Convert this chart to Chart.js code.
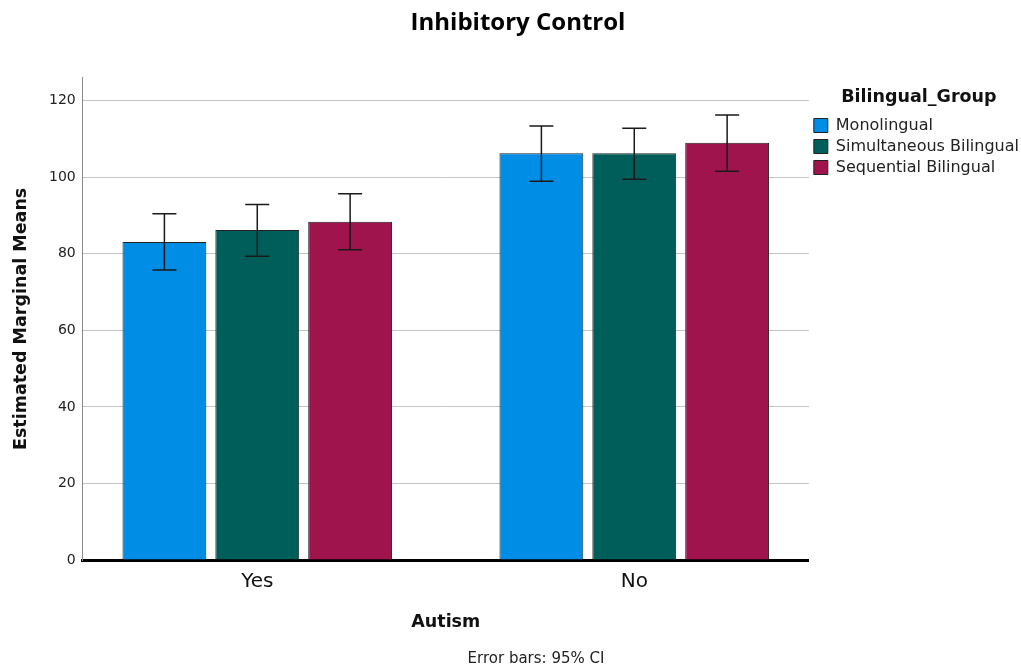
<!DOCTYPE html>
<html>
<head>
<meta charset="utf-8">
<script src="https://cdn.jsdelivr.net/npm/chart.js@4"></script>
<style>
  html, body { margin: 0; padding: 0; background: #fff; }
  #wrap { width: 1021px; height: 668px; position: relative; }
</style>
</head>
<body>
<div id="wrap"><canvas id="chart"></canvas></div>
<script>
// data
const autismGroups = ["Yes", "No"];
const groupNames = ["Monolingual", "Simultaneous Bilingual", "Sequential Bilingual"];

const monolingual = [83.1, 106.3];
const simultaneous = [86.2, 106.3];
const sequential = [88.4, 109.0];

const monoLow = [75.8, 99.0];
const monoHigh = [90.5, 113.4];
const simLow = [79.4, 99.5];
const simHigh = [92.9, 112.8];
const seqLow = [81.1, 101.6];
const seqHigh = [95.7, 116.3];

const yTicks = [0, 20, 40, 60, 80, 100, 120];

const FONT = "'DejaVu Sans', sans-serif";
const TITLE_FONT = "'Open Sans', 'DejaVu Sans', sans-serif";
Chart.defaults.font.family = FONT;
Chart.defaults.color = "#222";

function toPoints(values) {
    return values.map((v, i) => ({ x: i, y: v }));
}

// error bars (95% CI) drawn on top of the bars
const errorBars = {
    id: "errorBars",
    afterDatasetsDraw(chart) {
        const ctx = chart.ctx;
        const yScale = chart.scales.y;
        ctx.save();
        ctx.strokeStyle = "#1a1a1a";
        ctx.lineWidth = 1.5;
        chart.data.datasets.forEach((ds, i) => {
            const meta = chart.getDatasetMeta(i);
            meta.data.forEach((bar, j) => {
                const top = yScale.getPixelForValue(ds.ciHigh[j]);
                const bot = yScale.getPixelForValue(ds.ciLow[j]);
                const cap = 12;
                ctx.beginPath();
                ctx.moveTo(bar.x, top);
                ctx.lineTo(bar.x, bot);
                ctx.moveTo(bar.x - cap, top);
                ctx.lineTo(bar.x + cap, top);
                ctx.moveTo(bar.x - cap, bot);
                ctx.lineTo(bar.x + cap, bot);
                ctx.stroke();
            });
        });
        ctx.restore();
    }
};

// footnote under the x axis title
const footnote = {
    id: "footnote",
    afterDraw(chart) {
        const ctx = chart.ctx;
        ctx.save();
        ctx.font = "15px " + FONT;
        ctx.fillStyle = "#222";
        ctx.textAlign = "center";
        ctx.textBaseline = "middle";
        ctx.fillText("Error bars: 95% CI", 536, 659);
        ctx.restore();
    }
};

new Chart(document.getElementById("chart"), {
    type: "bar",
    data: {
        datasets: [
            {
                label: groupNames[0],
                data: toPoints(monolingual),
                ciLow: monoLow, ciHigh: monoHigh,
                backgroundColor: "#008de6",
                borderColor: "#222"
            },
            {
                label: groupNames[1],
                data: toPoints(simultaneous),
                ciLow: simLow, ciHigh: simHigh,
                backgroundColor: "#005e5a",
                borderColor: "#222"
            },
            {
                label: groupNames[2],
                data: toPoints(sequential),
                ciLow: seqLow, ciHigh: seqHigh,
                backgroundColor: "#a0144e",
                borderColor: "#222"
            }
        ]
    },
    options: {
        responsive: true,
        maintainAspectRatio: false,
        animation: false,
        datasets: {
            bar: {
                borderWidth: 1,
                categoryPercentage: 0.739,
                barPercentage: 0.903
            }
        },
        // negative right padding lets the legend sit flush with the canvas edge
        layout: { padding: { left: 7, right: -8, top: 6, bottom: 31 } },
        plugins: {
            title: {
                display: true,
                text: "Inhibitory Control",
                color: "#000",
                font: { family: TITLE_FONT, size: 24, weight: "bold" },
                padding: { top: 3, bottom: 40 }
            },
            legend: {
                position: "right",
                align: "start",
                title: {
                    display: true,
                    text: "Bilingual_Group",
                    color: "#111",
                    font: { size: 17.5, weight: "bold" },
                    padding: { top: 83, bottom: 2.5 }
                },
                labels: {
                    boxWidth: 14,
                    boxHeight: 14,
                    padding: 5,
                    color: "#222",
                    font: { size: 16 }
                }
            },
            tooltip: { enabled: false }
        },
        scales: {
            x: {
                type: "linear",
                min: -0.463,
                max: 1.463,
                offset: false,
                grid: { display: false, drawTicks: false },
                border: { color: "#000", width: 3 },
                afterBuildTicks: s => { s.ticks = autismGroups.map((g, i) => ({ value: i })); },
                ticks: {
                    callback: v => autismGroups[v],
                    font: { size: 20 },
                    color: "#111",
                    padding: 10
                },
                title: {
                    display: true,
                    text: "Autism",
                    color: "#111",
                    font: { size: 17.5, weight: "bold" },
                    padding: { top: 8 }
                }
            },
            y: {
                min: 0,
                max: 126,
                afterBuildTicks: s => { s.ticks = yTicks.map(v => ({ value: v })); },
                grid: { color: "#c4c4c4", drawTicks: false },
                border: { color: "#8a8a8a", width: 1 },
                ticks: { font: { size: 14 }, color: "#222", padding: 7 },
                title: {
                    display: true,
                    text: "Estimated Marginal Means",
                    color: "#111",
                    font: { size: 17.5, weight: "bold" },
                    padding: { bottom: 10 }
                }
            }
        }
    },
    plugins: [errorBars, footnote]
});
</script>
</body>
</html>
